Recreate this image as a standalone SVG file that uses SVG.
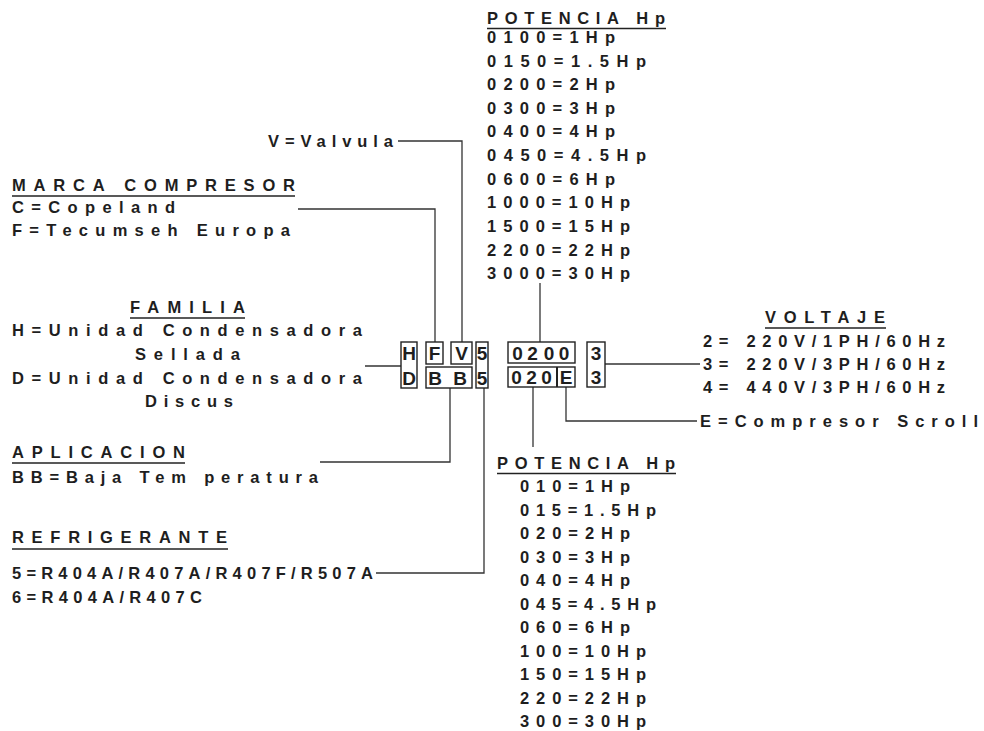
<svg xmlns="http://www.w3.org/2000/svg" width="984" height="731" viewBox="0 0 984 731">
<style>
.t{font-family:"Liberation Sans",Arial,sans-serif;font-weight:bold;font-size:16.5px;fill:#1e1e1e}
.b{font-family:"Liberation Sans",Arial,sans-serif;font-weight:bold;font-size:19px;fill:#1e1e1e;text-anchor:middle}
.u{stroke:#222;stroke-width:1.4}
.w{fill:none;stroke:#333;stroke-width:1.3}
.bx{fill:none;stroke:#222;stroke-width:1.4}
</style>
<rect width="984" height="731" fill="#fff"/>
<g id="connectors" class="w">
<polyline points="398,141 462,141 462,342"/>
<polyline points="298,209 435,209 435,342"/>
<polyline points="365,366 401,366"/>
<polyline points="320,462 450,462 450,388"/>
<polyline points="376,573 484,573 484,388"/>
<polyline points="540,283 540,342"/>
<polyline points="533,387 533,447"/>
<polyline points="566,387 566,421 697,421"/>
<polyline points="605,364 700,364"/>
</g>
<g id="code">
<rect class="bx" x="401" y="342" width="16" height="46"/>
<rect class="bx" x="426" y="342" width="17" height="22"/>
<rect class="bx" x="451" y="342" width="21" height="22"/>
<rect class="bx" x="426" y="367" width="46" height="21"/>
<rect class="bx" x="476" y="342" width="12" height="46"/>
<rect class="bx" x="508" y="342" width="67" height="21"/>
<rect class="bx" x="508" y="367" width="67" height="20"/>
<line class="bx" x1="557" y1="367" x2="557" y2="387" style="stroke-width:2"/>
<rect class="bx" x="587" y="342" width="18" height="45"/>
<text class="b" x="409" y="360">H</text>
<text class="b" x="409" y="384.5">D</text>
<text class="b" x="434.5" y="360">F</text>
<text class="b" x="461.5" y="360">V</text>
<text class="b" x="435" y="384.5">B</text>
<text class="b" x="460" y="384.5">B</text>
<text class="b" x="482" y="360">5</text>
<text class="b" x="482" y="384.5">5</text>
<text class="b" x="517.5" y="359.5">0</text>
<text class="b" x="532.5" y="359.5">2</text>
<text class="b" x="549" y="359.5">0</text>
<text class="b" x="564" y="359.5">0</text>
<text class="b" x="516.5" y="384">0</text>
<text class="b" x="531.5" y="384">2</text>
<text class="b" x="546.5" y="384">0</text>
<text class="b" x="566" y="384">E</text>
<text class="b" x="596" y="359.5">3</text>
<text class="b" x="596" y="384">3</text>
</g>
<g id="potencia-top">
<text class="t" x="487" y="24" textLength="178" lengthAdjust="spacing">POTENCIA Hp</text>
<line class="u" x1="487" y1="28.5" x2="666" y2="28.5"/>
<text class="t" x="487" y="43" textLength="128" lengthAdjust="spacing">0100=1Hp</text>
<text class="t" x="487" y="66.5" textLength="159" lengthAdjust="spacing">0150=1.5Hp</text>
<text class="t" x="487" y="90" textLength="128" lengthAdjust="spacing">0200=2Hp</text>
<text class="t" x="487" y="113.5" textLength="128" lengthAdjust="spacing">0300=3Hp</text>
<text class="t" x="487" y="137" textLength="128" lengthAdjust="spacing">0400=4Hp</text>
<text class="t" x="487" y="161" textLength="159" lengthAdjust="spacing">0450=4.5Hp</text>
<text class="t" x="487" y="184.5" textLength="128" lengthAdjust="spacing">0600=6Hp</text>
<text class="t" x="487" y="208" textLength="143" lengthAdjust="spacing">1000=10Hp</text>
<text class="t" x="487" y="231.5" textLength="143" lengthAdjust="spacing">1500=15Hp</text>
<text class="t" x="487" y="255.5" textLength="143" lengthAdjust="spacing">2200=22Hp</text>
<text class="t" x="487" y="279" textLength="143" lengthAdjust="spacing">3000=30Hp</text>
</g>
<g id="valvula">
<text class="t" x="268" y="147" textLength="125" lengthAdjust="spacing">V=Valvula</text>
</g>
<g id="marca">
<text class="t" x="12" y="191" textLength="283" lengthAdjust="spacing">MARCA COMPRESOR</text>
<line class="u" x1="12" y1="196" x2="295" y2="196"/>
<text class="t" x="12" y="213" textLength="163" lengthAdjust="spacing">C=Copeland</text>
<text class="t" x="12" y="236" textLength="278" lengthAdjust="spacing">F=Tecumseh Europa</text>
</g>
<g id="familia">
<text class="t" x="130" y="313" textLength="115" lengthAdjust="spacing">FAMILIA</text>
<line class="u" x1="130" y1="318" x2="245" y2="318"/>
<text class="t" x="12" y="336" textLength="350" lengthAdjust="spacing">H=Unidad Condensadora</text>
<text class="t" x="135" y="360" textLength="105" lengthAdjust="spacing">Sellada</text>
<text class="t" x="12" y="384" textLength="350" lengthAdjust="spacing">D=Unidad Condensadora</text>
<text class="t" x="145" y="407" textLength="88" lengthAdjust="spacing">Discus</text>
</g>
<g id="aplicacion">
<text class="t" x="12" y="458" textLength="173" lengthAdjust="spacing">APLICACION</text>
<line class="u" x1="12" y1="463" x2="185" y2="463"/>
<text class="t" x="12" y="483" textLength="306" lengthAdjust="spacing">BB=Baja Tem peratura</text>
</g>
<g id="refrigerante">
<text class="t" x="12" y="543" textLength="215" lengthAdjust="spacing">REFRIGERANTE</text>
<line class="u" x1="12" y1="549" x2="228" y2="549"/>
<text class="t" x="12" y="579" textLength="361" lengthAdjust="spacing">5=R404A/R407A/R407F/R507A</text>
<text class="t" x="12" y="603" textLength="190" lengthAdjust="spacing">6=R404A/R407C</text>
</g>
<g id="voltaje">
<text class="t" x="765" y="323" textLength="120" lengthAdjust="spacing">VOLTAJE</text>
<line class="u" x1="765" y1="328" x2="886" y2="328"/>
<text class="t" x="703" y="347" textLength="242" lengthAdjust="spacing">2= 220V/1PH/60Hz</text>
<text class="t" x="703" y="370" textLength="242" lengthAdjust="spacing">3= 220V/3PH/60Hz</text>
<text class="t" x="703" y="393" textLength="242" lengthAdjust="spacing">4= 440V/3PH/60Hz</text>
</g>
<g id="scroll">
<text class="t" x="700" y="427" textLength="278" lengthAdjust="spacing">E=Compresor Scroll</text>
</g>
<g id="potencia-bottom">
<text class="t" x="497" y="469" textLength="178" lengthAdjust="spacing">POTENCIA Hp</text>
<line class="u" x1="497" y1="473.5" x2="676" y2="473.5"/>
<text class="t" x="520" y="492" textLength="110" lengthAdjust="spacing">010=1Hp</text>
<text class="t" x="520" y="515.5" textLength="136" lengthAdjust="spacing">015=1.5Hp</text>
<text class="t" x="520" y="539" textLength="110" lengthAdjust="spacing">020=2Hp</text>
<text class="t" x="520" y="562.5" textLength="110" lengthAdjust="spacing">030=3Hp</text>
<text class="t" x="520" y="586" textLength="110" lengthAdjust="spacing">040=4Hp</text>
<text class="t" x="520" y="609.5" textLength="136" lengthAdjust="spacing">045=4.5Hp</text>
<text class="t" x="520" y="633" textLength="110" lengthAdjust="spacing">060=6Hp</text>
<text class="t" x="520" y="656.5" textLength="126" lengthAdjust="spacing">100=10Hp</text>
<text class="t" x="520" y="680" textLength="126" lengthAdjust="spacing">150=15Hp</text>
<text class="t" x="520" y="703.5" textLength="126" lengthAdjust="spacing">220=22Hp</text>
<text class="t" x="520" y="727" textLength="126" lengthAdjust="spacing">300=30Hp</text>
</g>
</svg>
